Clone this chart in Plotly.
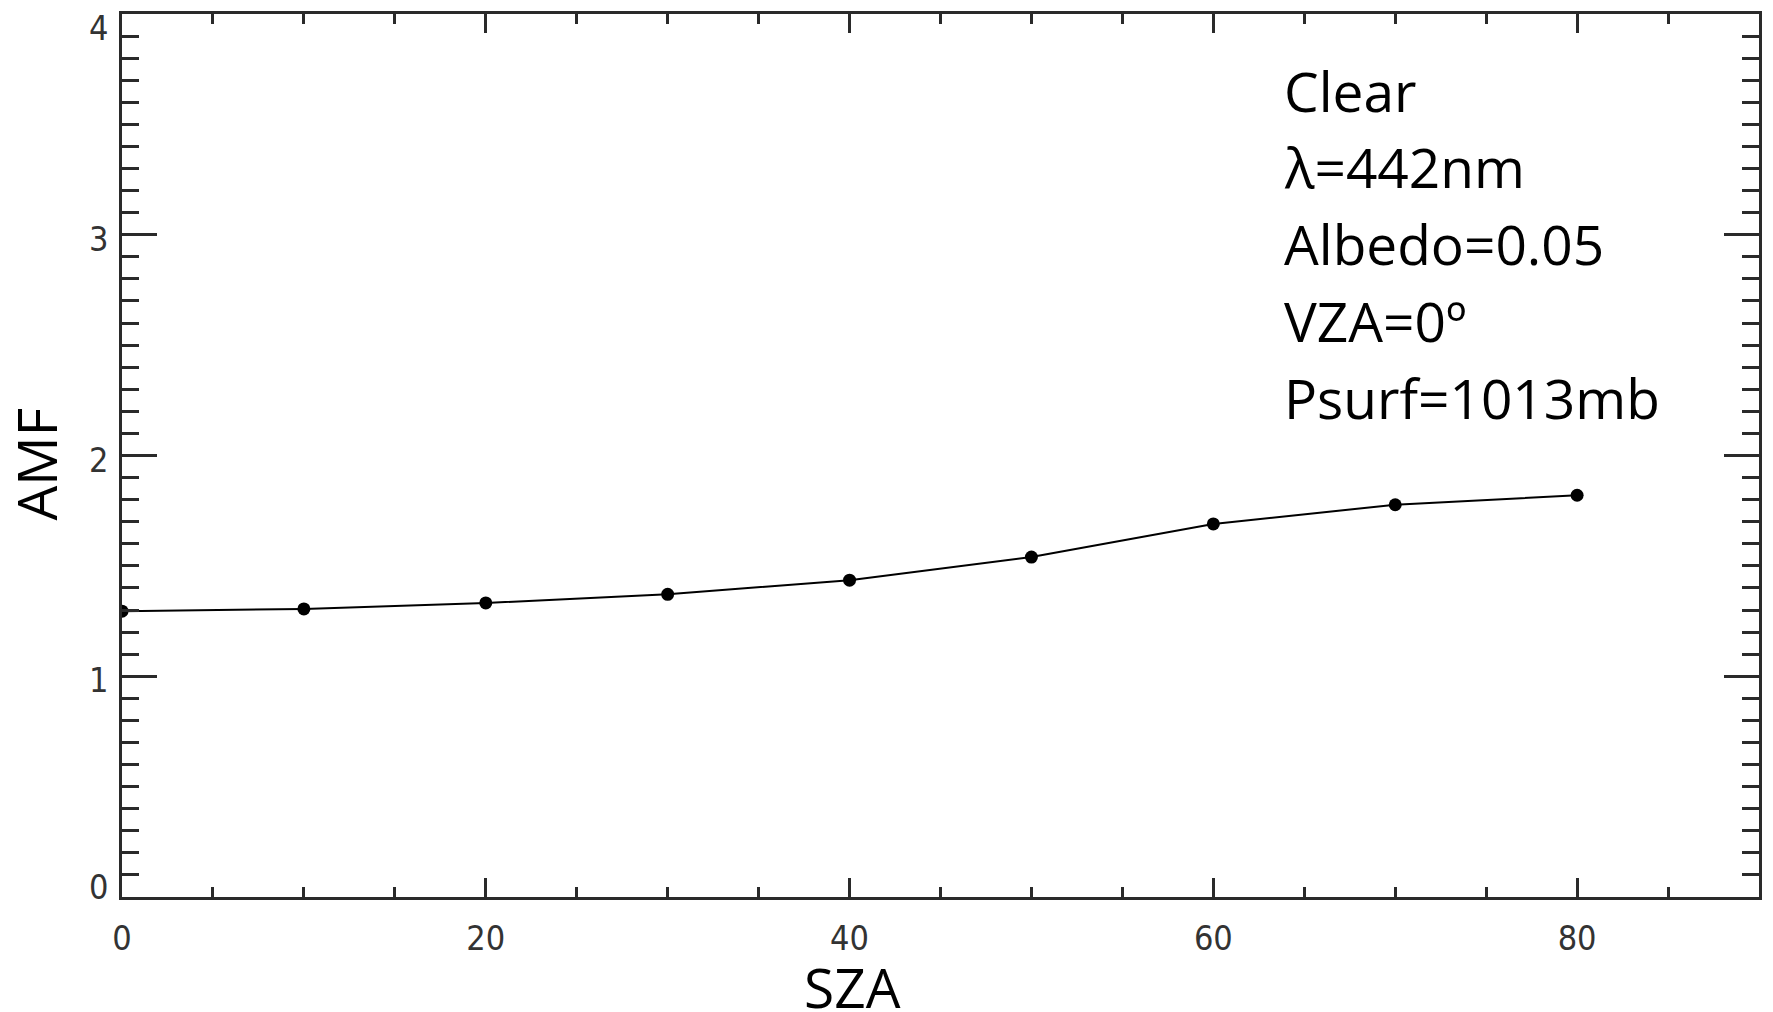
import plotly.graph_objects as go

# ---- data ----
sza = [0, 10, 20, 30, 40, 50, 60, 70, 80]
amf = [1.295, 1.305, 1.332, 1.371, 1.435, 1.540, 1.690, 1.777, 1.820]

x_tickvals = [0, 20, 40, 60, 80]
y_tickvals = [0, 1, 2, 3, 4]

info_lines = ["Clear", "λ=442nm", "Albedo=0.05", "VZA=0º", "Psurf=1013mb"]
x_title = "SZA"
y_title = "AMF"

W, H = 1773, 1012
ML, MR, MT, MB = 122, 12, 11, 115

axis_color = "#2a2a2a"
tick_font = dict(family="Liberation Sans Narrow, DejaVu Sans Condensed, Arial Narrow, sans-serif",
                 size=34, color="#333333")
title_font = dict(family="Open Sans, Noto Sans, sans-serif", size=55, color="black")

fig = go.Figure()
fig.add_trace(go.Scatter(
    x=sza, y=amf, mode="lines+markers",
    line=dict(color="black", width=2),
    marker=dict(color="black", size=13, symbol="circle"),
    showlegend=False,
))

fig.update_xaxes(
    range=[0, 90], tickvals=x_tickvals, ticktext=[str(v) for v in x_tickvals],
    ticks="inside", ticklen=19, tickwidth=2.5, tickcolor=axis_color,
    minor=dict(dtick=5, tick0=0, ticks="inside", ticklen=10, tickwidth=2.5, tickcolor=axis_color),
    showline=True, linecolor=axis_color, linewidth=3, mirror="ticks",
    showgrid=False, zeroline=False, tickfont=tick_font, ticklabelstandoff=9,
)
fig.update_yaxes(
    range=[0, 4], tickvals=y_tickvals, showticklabels=False,
    ticks="inside", ticklen=35, tickwidth=2.5, tickcolor=axis_color,
    minor=dict(dtick=0.1, tick0=0, ticks="inside", ticklen=17, tickwidth=2.5, tickcolor=axis_color),
    showline=True, linecolor=axis_color, linewidth=3, mirror="ticks",
    showgrid=False, zeroline=False,
)

# y tick labels as annotations (end labels kept inside the frame like the reference)
for v in y_tickvals:
    if v == y_tickvals[-1]:
        shift = -14
    elif v == y_tickvals[0]:
        shift = 10
    else:
        shift = -4
    fig.add_annotation(
        x=-12 / (W - ML - MR), y=v, xref="paper", yref="y",
        text=str(v), showarrow=False, xanchor="right", yanchor="middle",
        yshift=shift, font=tick_font,
    )

# info text block
line_gap = 0.3476
for i, txt in enumerate(info_lines):
    fig.add_annotation(
        x=63.8, y=3.655 - i * line_gap, xref="x", yref="y",
        text=txt, showarrow=False, xanchor="left", yanchor="middle",
        font=dict(family="Open Sans, Noto Sans, sans-serif", size=55, color="black"),
    )

# axis titles
fig.add_annotation(
    x=(853 - ML) / (W - ML - MR), y=-(987 - (H - MB)) / (H - MT - MB),
    xref="paper", yref="paper", text=x_title, showarrow=False,
    xanchor="center", yanchor="middle", font=title_font,
)
fig.add_annotation(
    x=(35 - ML) / (W - ML - MR), y=(H - MB - 463) / (H - MT - MB),
    xref="paper", yref="paper", text=y_title, showarrow=False, textangle=-90,
    xanchor="center", yanchor="middle", font=title_font,
)

fig.update_layout(
    width=W, height=H,
    margin=dict(l=ML, r=MR, t=MT, b=MB),
    paper_bgcolor="white", plot_bgcolor="white",
)

fig.write_html("out.html")
